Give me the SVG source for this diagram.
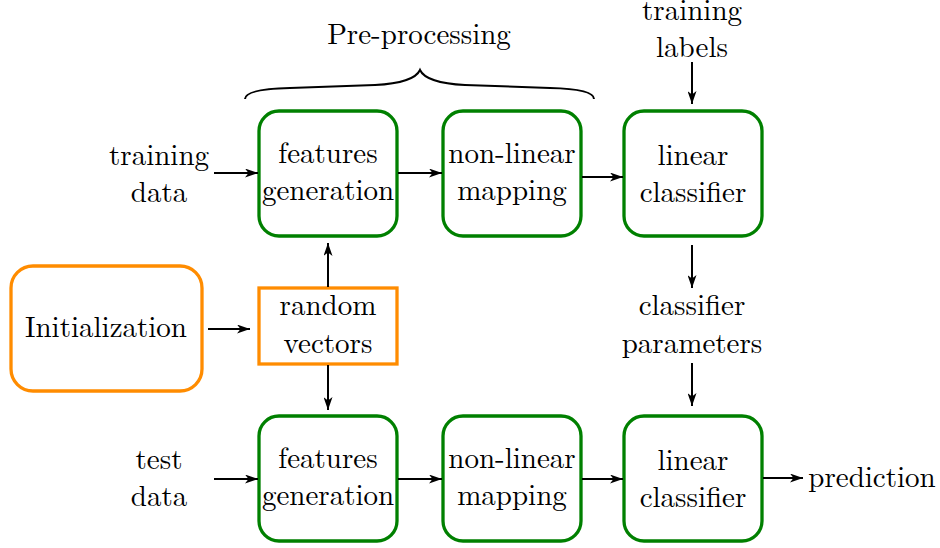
<svg xmlns="http://www.w3.org/2000/svg" width="940" height="548" viewBox="0 0 940 548">
<style>
text{font-family:'Latin Modern Roman','Times New Roman','Liberation Serif',serif;font-size:29px;fill:#000;text-anchor:middle}
.g{fill:#fff;stroke:#008000;stroke-width:3.3}
.o{fill:#fff;stroke:#ff8c00;stroke-width:3.3}
.c line{stroke:#000;stroke-width:2;marker-end:url(#ah)}
</style>
<defs>
<marker id="ah" viewBox="0 0 13 9" refX="13" refY="4.5" markerWidth="13" markerHeight="9" markerUnits="userSpaceOnUse" orient="auto">
<path d="M0,0 L13,4.5 L0,9 L3.5,4.5 Z" fill="#000"/>
</marker>
</defs>
<g id="preproc">
<text x="419" y="44">Pre-processing</text>
<path d="M245,99 Q245,89 290,88 L375,85 Q414,83 420,70 Q426,83 465,85 L550,88 Q594,89 594,99" fill="none" stroke="#000" stroke-width="2"/>
</g>
<g id="training-data"><text x="159" y="165">training</text><text x="159" y="202">data</text></g>
<g id="training-labels"><text x="692" y="20">training</text><text x="692" y="57">labels</text></g>
<g id="feat1"><rect class="g" x="259" y="111" width="138" height="125" rx="20"/><text x="328" y="163">features</text><text x="328" y="200">generation</text></g>
<g id="nl1"><rect class="g" x="443" y="111" width="138" height="125" rx="20"/><text x="512" y="163">non-linear</text><text x="512" y="200">mapping</text></g>
<g id="lc1"><rect class="g" x="624" y="111" width="138" height="125" rx="20"/><text x="693" y="165">linear</text><text x="693" y="202">classifier</text></g>
<g id="init"><rect class="o" x="11" y="266" width="191" height="125" rx="22"/><text x="106" y="337">Initialization</text></g>
<g id="random"><rect class="o" x="259" y="288" width="138" height="76"/><text x="328" y="315">random</text><text x="328" y="353">vectors</text></g>
<g id="params"><text x="692" y="315">classifier</text><text x="692" y="353">parameters</text></g>
<g id="test-data"><text x="159" y="469">test</text><text x="159" y="506">data</text></g>
<g id="feat2"><rect class="g" x="259" y="416" width="138" height="125" rx="20"/><text x="328" y="468">features</text><text x="328" y="505">generation</text></g>
<g id="nl2"><rect class="g" x="443" y="416" width="138" height="125" rx="20"/><text x="512" y="468">non-linear</text><text x="512" y="505">mapping</text></g>
<g id="lc2"><rect class="g" x="624" y="416" width="138" height="125" rx="20"/><text x="693" y="470">linear</text><text x="693" y="507">classifier</text></g>
<g id="prediction"><text x="872" y="487">prediction</text></g>
<g class="c" id="connectors">
<line x1="214" y1="173" x2="258" y2="173"/>
<line x1="398" y1="173" x2="442" y2="173"/>
<line x1="582" y1="177" x2="623" y2="177"/>
<line x1="692" y1="62" x2="692" y2="104"/>
<line x1="692" y1="245" x2="692" y2="288"/>
<line x1="692" y1="363" x2="692" y2="406"/>
<line x1="208" y1="329" x2="250" y2="329"/>
<line x1="328" y1="287" x2="328" y2="243"/>
<line x1="328" y1="365" x2="328" y2="410"/>
<line x1="214" y1="479" x2="258" y2="479"/>
<line x1="398" y1="479" x2="442" y2="479"/>
<line x1="582" y1="479" x2="623" y2="479"/>
<line x1="763" y1="478" x2="803" y2="478"/>
</g>
</svg>
